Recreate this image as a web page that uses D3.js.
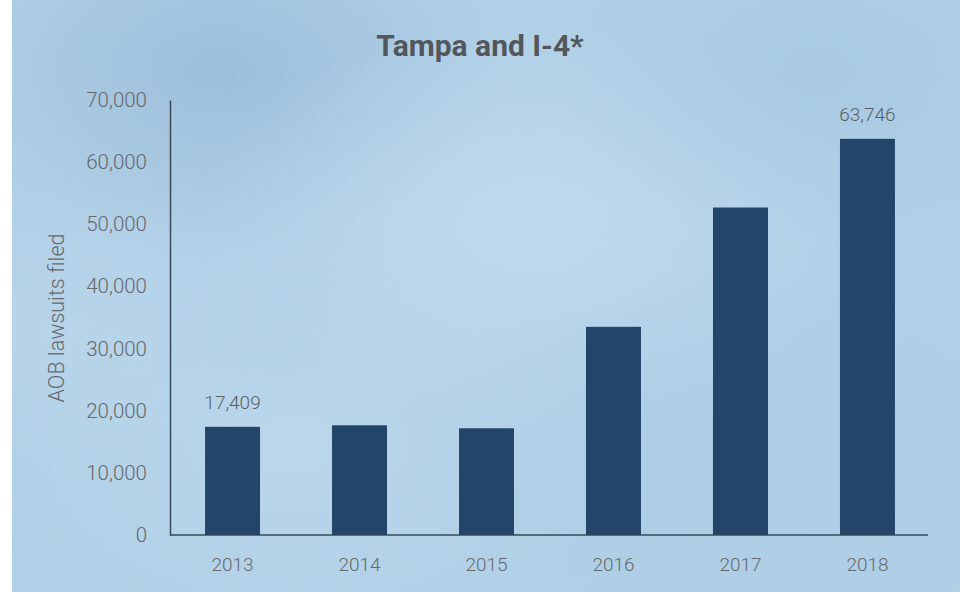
<!DOCTYPE html>
<html><head><meta charset="utf-8">
<script src="https://cdn.jsdelivr.net/npm/d3@7"></script>
<style>html,body{margin:0;padding:0;background:#fff;}svg{display:block;}</style>
</head><body>
<script>
const years = ["2013","2014","2015","2016","2017","2018"];
const lawsuits = [17409, 17650, 17170, 33500, 52700, 63746];
const labelledYears = ["2013","2018"];
const yTicks = [0,10000,20000,30000,40000,50000,60000,70000];
const title = "Tampa and I-4*";
const yTitle = "AOB lawsuits filed";

const W = 963, H = 594;
const svg = d3.select("body").append("svg").attr("width", W).attr("height", H);
const defs = svg.append("defs");

// watercolor-ish background
const blobs = [
  {id:"b1", cx:0.22, cy:0.12, r:0.30, c:"#8fb2d2", o:0.6},
  {id:"b2", cx:0.55, cy:0.38, r:0.35, c:"#c6e0f0", o:0.7},
  {id:"b3", cx:0.85, cy:0.12, r:0.28, c:"#a0c2de", o:0.5},
  {id:"b4", cx:0.30, cy:0.75, r:0.35, c:"#c0dcee", o:0.6},
  {id:"b5", cx:0.80, cy:0.80, r:0.35, c:"#aacbe3", o:0.5},
  {id:"b6", cx:0.05, cy:0.55, r:0.25, c:"#bcd8ec", o:0.6}
];
blobs.forEach(b => {
  const g = defs.append("radialGradient").attr("id", b.id)
    .attr("cx", b.cx).attr("cy", b.cy).attr("r", b.r);
  g.append("stop").attr("offset", "0%").attr("stop-color", b.c).attr("stop-opacity", b.o);
  g.append("stop").attr("offset", "100%").attr("stop-color", b.c).attr("stop-opacity", 0);
});
const f = defs.append("filter").attr("id","grain").attr("x",0).attr("y",0).attr("width","100%").attr("height","100%");
f.append("feTurbulence").attr("type","fractalNoise").attr("baseFrequency","0.9").attr("numOctaves",2).attr("seed",3).attr("result","n");
f.append("feColorMatrix").attr("in","n").attr("type","matrix")
  .attr("values","0 0 0 0 0.45  0 0 0 0 0.6  0 0 0 0 0.75  0 0 0 0.12 0");
f.append("feComposite").attr("in2","SourceGraphic").attr("operator","in");

const bgX = 12, bgW = 948, bgH = 592;
svg.append("rect").attr("x", bgX).attr("y", 0).attr("width", bgW).attr("height", bgH).attr("fill", "#b0d0e7");
blobs.forEach(b => {
  svg.append("rect").attr("x", bgX).attr("y", 0).attr("width", bgW).attr("height", bgH).attr("fill", `url(#${b.id})`);
});
svg.append("rect").attr("x", bgX).attr("y", 0).attr("width", bgW).attr("height", bgH).attr("fill", "#fff").attr("filter", "url(#grain)");

const x0 = 170, x1 = 930, y0 = 535, y1 = 100;
const x = d3.scaleBand().domain(years).range([x0, x1]).paddingInner(0.567).paddingOuter(0.276);
const y = d3.scaleLinear().domain([0, 70000]).range([y0, y1]);

const font = "Roboto, 'Open Sans', sans-serif";

// title
svg.append("text").attr("x", 480).attr("y", 56).attr("text-anchor", "middle")
  .attr("font-family", font).attr("font-weight", 700).attr("font-size", 30)
  .attr("fill", "#53575c").text(title);

// y axis
const yAxis = d3.axisLeft(y).tickValues(yTicks).tickSize(0).tickPadding(23)
  .tickFormat(d3.format(","));
const gy = svg.append("g").attr("transform", `translate(${x0},0)`).call(yAxis);
gy.select(".domain").attr("stroke", "#3b4856").attr("stroke-width", 1.5);
gy.selectAll("text").attr("font-family", font).attr("font-size", 20.5).attr("font-weight", 300)
  .attr("fill", "#66696d");

// x axis
const xAxis = d3.axisBottom(x).tickSize(0).tickPadding(23);
const gx = svg.append("g").attr("transform", `translate(0,${y0})`).call(xAxis);
gx.select(".domain").attr("stroke", "#3b4856").attr("stroke-width", 1.5).attr("d", `M${x0},0H928`);
gx.selectAll("text").attr("font-family", font).attr("font-size", 19).attr("font-weight", 300)
  .attr("fill", "#66696d");

// y title
svg.append("text").attr("transform", `translate(64,318) rotate(-90)`).attr("text-anchor", "middle")
  .attr("font-family", font).attr("font-weight", 300).attr("font-size", 21.5)
  .attr("fill", "#66696d").text(yTitle);

const data = years.map((yr, i) => ({year: yr, value: lawsuits[i]}));

svg.append("g").selectAll("rect").data(data).join("rect")
  .attr("x", d => x(d.year)).attr("width", x.bandwidth())
  .attr("y", d => y(d.value)).attr("height", d => y0 - y(d.value))
  .attr("fill", "#234569");

svg.append("g").selectAll("text").data(data.filter(d => labelledYears.includes(d.year))).join("text")
  .attr("x", d => x(d.year) + x.bandwidth() / 2).attr("y", d => y(d.value) - 18)
  .attr("text-anchor", "middle").attr("font-family", font).attr("font-size", 19).attr("font-weight", 300)
  .attr("fill", "#5b5f63").text(d => d3.format(",")(d.value));

gx.raise();
</script>
</body></html>
